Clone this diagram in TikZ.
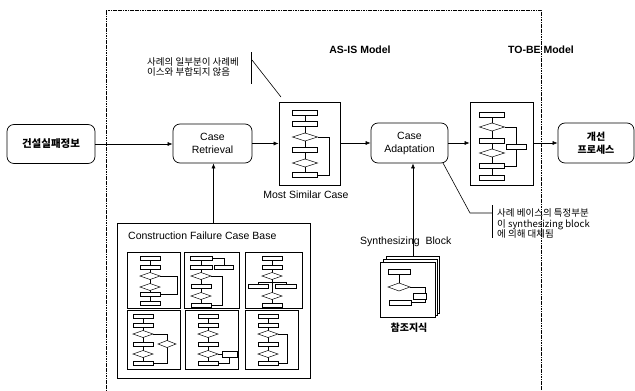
\documentclass[tikz,border=0pt]{standalone}
\usepackage{fontspec}
\setmainfont{Liberation Sans}
\newfontfamily\kr{Noto Sans CJK KR}
\usetikzlibrary{arrows.meta,calc}
\tikzset{
  rbox/.style={draw,rounded corners=7pt,line width=0.7pt,align=center,inner sep=0pt},
  fbox/.style={draw,line width=0.7pt,inner sep=0pt,fill=white},
  subbox/.style={draw,line width=0.9pt},
  arr/.style={-{Latex[length=5pt,width=4pt]},line width=0.6pt},
  mini/.style={line width=0.5pt,fill=white},
  mline/.style={line width=0.5pt},
  dotline/.style={line width=0.9pt,dash pattern=on 1.2pt off 0.5pt},
  lbl/.style={inner sep=0pt},
  bar/.style={line width=1pt},
  lead/.style={line width=0.6pt},
}
\newcommand{\mrect}[4]{\draw[mini] ({#1-#3/2},{#2-#4/2}) rectangle ({#1+#3/2},{#2+#4/2});}
\newcommand{\mdiam}[4]{\draw[mini] ({#1-#3/2},#2) -- (#1,{#2-#4/2}) -- ({#1+#3/2},#2) -- (#1,{#2+#4/2}) -- cycle;}
\begin{document}
\begin{tikzpicture}[x=1pt,y=-1pt]
\useasboundingbox (0,0) rectangle (635,391);
\draw[dotline] (106,391) -- (106,10) -- (541,10) -- (541,391);

% main nodes
\node[rbox,minimum width=88pt,minimum height=39pt,font=\kr\bfseries\fontsize{10.5}{13}\selectfont] (info) at (51,144) {건설실패정보};
\node[rbox,minimum width=79pt,minimum height=39pt,font=\fontsize{10.5}{13}\selectfont] (retr) at (212.5,143.5) {Case\\Retrieval};
\node[fbox,minimum width=61pt,minimum height=83pt] (msc) at (309.5,143.5) {};
\node[rbox,minimum width=77pt,minimum height=40pt,font=\fontsize{10.5}{13}\selectfont] (adapt) at (409.5,143) {Case\\Adaptation};
\node[fbox,minimum width=63pt,minimum height=83pt] (tobe) at (501.5,143.5) {};
\node[rbox,minimum width=76pt,minimum height=40pt,font=\kr\bfseries\fontsize{10}{13}\selectfont] (impr) at (596,143) {개선\\프로세스};

\draw[arr] (info.east) -- (info.east -| retr.west);
\draw[arr] (retr.east) -- (retr.east -| msc.west);
\draw[arr] (adapt.west -| msc.east) -- (adapt.west);
\draw[arr] (adapt.east) -- (adapt.east -| tobe.west);
\draw[arr] (tobe.east |- impr.west) -- (impr.west);

% most similar case mini flowchart
\draw[mline] (305,113) -- (305,175);
\draw[mline] (317.5,137) -- (329,137) -- (329,175) -- (317.5,175);
\mrect{305}{113}{25}{5}
\mrect{305}{124}{25}{5}
\mdiam{305}{137}{25}{8}
\mrect{305}{150}{25}{5}
\mdiam{305}{163}{25}{8}
\mrect{305}{175}{25}{5}

% to-be mini flowchart
\draw[mline] (492,115) -- (492,178);
\draw[mline] (504.5,127) -- (516,127) -- (516,166) -- (504.5,166);
\mrect{492}{115}{25}{5}
\mdiam{492}{127}{25}{8}
\mrect{492}{141}{25}{5}
\mdiam{492}{153}{25}{8}
\mrect{492}{166}{25}{5}
\mrect{492}{178}{25}{5}
\mrect{516}{147}{20}{5}

% labels
\node[lbl,font=\bfseries\fontsize{10.5}{12}\selectfont] (asis) at (360,50) {AS-IS Model};
\node[lbl,font=\bfseries\fontsize{10.5}{12}\selectfont] (tobel) at (541,50) {TO-BE Model};
\node[lbl,font=\fontsize{10.5}{12}\selectfont] (msl) at (306,195) {Most Similar Case};

% note 1
\node[lbl,anchor=west,align=left,font=\kr\fontsize{9.5}{10.5}\selectfont] (n1) at (147,67) {사례의 일부분이 사례베\\이스와 부합되지 않음};
\coordinate (b1t) at (251,52);
\coordinate (b1b) at (251,84);
\draw[bar] (b1t) -- (b1b);
\coordinate (l1a) at (252,60);
\coordinate (l1b) at (281,97);
\draw[lead] (l1a) -- (l1b);

% note 2
\node[lbl,anchor=west,align=left,font=\kr\fontsize{9.5}{10.5}\selectfont] (n2) at (497,223.5) {사례 베이스의 특정부분\\이 synthesizing block\\에 의해 대체됨};
\coordinate (b2t) at (492,205);
\coordinate (b2b) at (492,238);
\draw[bar] (b2t) -- (b2b);
\coordinate (l2a) at (443,163);
\coordinate (l2b) at (470,213);
\coordinate (l2c) at (492,213);
\draw[lead] (l2a) -- (l2b) -- (l2c);

% case base
\node[fbox,minimum width=193pt,minimum height=155pt] (cb) at (213.5,300.5) {};
\node[lbl,anchor=west,font=\fontsize{10.5}{12}\selectfont] (cbl) at (128,236) {Construction Failure Case Base};
\draw[arr] (cb.north) -- (cb.north |- retr.south);

\draw[subbox] (127,252) rectangle (180,308);
\draw[subbox] (184,252) rectangle (239,308);
\draw[subbox] (245,252) rectangle (302,308);
\draw[subbox] (127,310) rectangle (180,369);
\draw[subbox] (185,310) rectangle (238,369);
\draw[subbox] (245,310) rectangle (298,369);

% A
\draw[mline] (150,258) -- (150,303);
\draw[mline] (160,276) -- (177,276) -- (177,294) -- (160,294);
\mrect{150}{258}{20}{4}
\mrect{150}{267}{20}{4}
\mdiam{150}{276}{20}{7}
\mdiam{150}{287}{20}{7}
\mrect{150}{294}{20}{4}
\mrect{150}{303}{20}{4}
% B
\draw[mline] (201,258) -- (201,305);
\draw[mline] (212,258) -- (224,258) -- (224,267);
\draw[mline] (211,276) -- (222,276) -- (222,305) -- (211,305);
\mrect{201}{258}{22}{4}
\mrect{201}{267}{22}{4}
\mrect{224}{267}{19}{4}
\mdiam{201}{276}{20}{7}
\mrect{201}{286}{20}{4}
\mdiam{201}{296}{20}{7}
\mrect{201}{305}{20}{4}
% C
\draw[mline] (272,258) -- (272,305);
\draw[mline] (258,282) -- (286,282) (258,282) -- (258,285) (286,282) -- (286,285);
\mrect{272}{258}{20}{4}
\mrect{272}{267}{20}{4}
\mdiam{272}{276}{20}{7}
\mrect{258}{286}{20}{4}
\mrect{286}{286}{21}{4}
\mdiam{272}{296}{20}{7}
\mrect{272}{305}{20}{4}
% D
\draw[mline] (143,316) -- (143,363);
\draw[mline] (153,334) -- (167,334) -- (167,363) -- (153,363);
\mrect{143}{316}{20}{4}
\mrect{143}{325}{20}{4}
\mdiam{143}{334}{20}{7}
\mrect{143}{344}{20}{4}
\mdiam{143}{354}{20}{7}
\mrect{143}{363}{20}{4}
\mdiam{167}{344}{18}{7}
% E
\draw[mline] (208,316) -- (208,363);
\draw[mline] (218,354) -- (222,354) (229,357) -- (229,363) -- (218,363);
\mrect{208}{316}{20}{4}
\mrect{208}{325}{20}{4}
\mdiam{208}{334}{20}{7}
\mrect{208}{344}{20}{4}
\mdiam{208}{354}{20}{7}
\mrect{208}{363}{20}{4}
\mrect{229.5}{354}{15}{6}
% F
\draw[mline] (268,316) -- (268,363);
\draw[mline] (278,334) -- (287,334) -- (287,363) -- (278,363);
\mrect{268}{316}{20}{4}
\mrect{268}{325}{20}{4}
\mdiam{268}{334}{20}{7}
\mrect{268}{344}{20}{4}
\mdiam{268}{354}{20}{7}
\mrect{268}{363}{20}{4}

% synthesizing block
\draw[fbox] (386,256) rectangle (439,313);
\draw[fbox] (383,259) rectangle (437,315);
\node[fbox,minimum width=55pt,minimum height=55pt] (ref) at (407.5,289.5) {};
\draw[mline] (399,272) -- (399,287);
\draw[mline] (410,287) -- (425,287) -- (425,302) -- (411,302);
\mrect{399}{272}{22}{5}
\mdiam{399}{287}{22}{8}
\mrect{420}{296}{13}{6}
\mrect{400}{303}{22}{5}
\node[lbl,anchor=base west,font=\fontsize{10.5}{12}\selectfont] (syn) at (360,244) {Synthesizing\hspace{3pt} Block};
\coordinate (st) at (413,256);
\draw[arr] (st) -- (st |- adapt.south);
\node[lbl,font=\kr\bfseries\fontsize{10}{12}\selectfont] (refl) at (409,328) {참조지식};
\end{tikzpicture}
\end{document}
